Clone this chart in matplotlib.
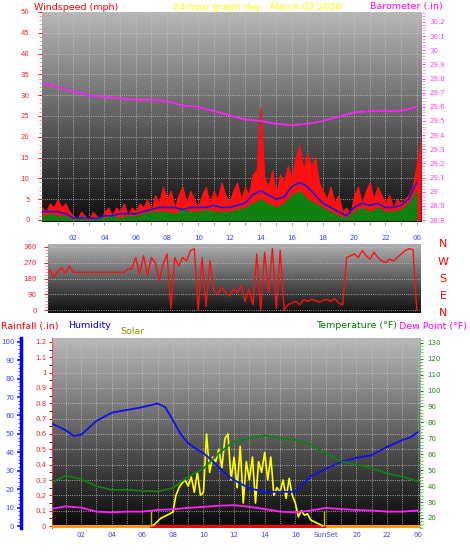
import numpy as np
import matplotlib
matplotlib.use("Agg")
import matplotlib.pyplot as plt
from matplotlib.ticker import MultipleLocator, FixedLocator, FuncFormatter

plt.rcParams['font.family'] = ['DejaVu Sans']

# ---------------- data ----------------
gust_h = [i * 0.25 for i in range(98)]
gust = [3, 2, 4, 3, 5, 3, 4, 2,
        1, 0, 2, 1, 0, 2, 1, 0,
        2, 3, 1, 3, 2, 4, 1, 3,
        2, 4, 3, 5, 2, 6, 4, 8,
        5, 7, 3, 6, 8, 4, 7, 5,
        3, 6, 8, 4, 7, 5, 9, 6,
        4, 7, 9, 5, 8, 6, 11, 12,
        27, 10, 8, 12, 6, 11, 9, 13,
        10, 15, 18, 12, 16, 13, 15, 9,
        7, 5, 8, 4, 6, 2, 3, 1,
        6, 8, 4, 7, 9, 5, 8, 6,
        4, 6, 3, 5, 4, 5, 6, 8,
        13, 19]

avg_h = [i * 0.5 for i in range(49)]
wind_avg = [2, 2, 2, 1.5, 0.5, 0.5, 0.5, 0.3, 1, 1, 1.5, 1.5,
            1.5, 2, 2.5, 3, 3, 3, 2.5, 3, 3, 3, 3.5, 3,
            3, 3.5, 4, 6, 7, 6, 5, 5.5, 8, 9, 8, 6,
            4, 3, 2, 1, 3, 4, 3.5, 4, 3, 3, 3.5, 5, 9]
wind_low = [1, 1.5, 1, 1, 0, 0.5, 0, 0.3, 0.5, 1, 0.5, 1,
            1, 1.5, 2, 2, 2, 1.5, 2.5, 2, 2, 2.5, 2, 2,
            2, 2.5, 3, 4, 5, 4, 3, 4, 6, 7, 5, 4,
            3, 2, 1, 0.5, 2, 3, 2, 3, 2, 2, 2.5, 4, 7]

baro_h = list(range(25))
baro = [29.77, 29.74, 29.71, 29.68, 29.67, 29.66, 29.65, 29.65, 29.64,
        29.61, 29.60, 29.57, 29.54, 29.51, 29.50, 29.48, 29.47, 29.48,
        29.50, 29.53, 29.56, 29.57, 29.57, 29.57, 29.60]

dir_h = [0.25 + i * 0.25 for i in range(96)]
wind_dir = [200, 230, 190, 220, 240, 210, 250,
            215, 215, 215, 215, 215, 215, 215, 215,
            215, 215, 215, 215, 215, 215,
            235, 235,
            300, 205, 310, 200, 300, 270, 170, 260,
            320, 10, 300, 250, 300, 280, 340, 350,
            0, 300, 20, 280, 110, 90, 130, 100,
            80, 120, 100, 140, 50, 120, 30, 320,
            0, 330, 100, 350, 10, 340, 0, 30,
            40, 50, 30, 60, 50, 60, 55, 45,
            55, 60, 50, 65, 40, 30, 300, 310,
            320, 300, 340, 310, 290, 330, 300, 280,
            270, 290, 280, 300, 320, 340, 350, 345,
            0]

th_h = [0, 1, 1.5, 2, 3, 4, 5, 6, 7, 7.5, 8, 8.5, 9, 9.5, 10, 10.5, 11,
        11.5, 12, 13, 14, 15, 16, 16.2, 17, 18, 19, 20, 21, 22, 23, 23.5, 24]
humidity = [56, 52, 49, 49.5, 57, 61.5, 63, 64.5, 66.5, 64.5, 57.5, 50, 45,
            42, 39.5, 36, 32, 28, 25, 20.5, 18.6, 18.6, 18.6, 20.5, 27, 31,
            35, 37, 38.5, 43, 46.7, 48, 51]
temp_h = list(range(25))
temperature = [42, 46.5, 44.4, 40, 37.7, 37.7, 37, 36.7, 38.8, 46, 51, 60.7,
               68, 70, 72, 70, 69, 66, 60.7, 55.5, 53.4, 51.3, 48, 46, 43]
dewpoint = [25.6, 27.3, 26.5, 24, 23.5, 24, 24, 25, 25.5, 26.3, 27, 27.7,
            28, 27, 25.6, 24, 23.5, 24.7, 26.3, 25.6, 25, 24.7, 24, 24, 24.7]

solar_h = [6.6 + i * 0.2 for i in range(57)]
solar = [0, 0.01, 0.03, 0.05, 0.06, 0.07, 0.08,
         0.09, 0.2, 0.25, 0.28, 0.3,
         0.26, 0.32, 0.22, 0.35, 0.2,
         0.22, 0.6, 0.35, 0.45, 0.42,
         0.5, 0.38, 0.57, 0.6, 0.3,
         0.45, 0.25, 0.52, 0.15, 0.42,
         0.3, 0.45, 0.15, 0.42, 0.35,
         0.48, 0.3, 0.45, 0.2, 0.25,
         0.22, 0.3, 0.18, 0.31, 0.2,
         0.15, 0.06, 0.1, 0.07, 0.08,
         0.04, 0.03, 0.02, 0.01, 0]
sunrise, sunset = 6.55, 17.9

hour_ticks = list(range(2, 25, 2))
hour_labels = ["%02d" % (h % 24) for h in hour_ticks]

W, H = 470, 554
fig = plt.figure(figsize=(W / 100, H / 100), dpi=100)


def box(x0, y0, x1, y1):
    return [x0 / W, 1 - y1 / H, (x1 - x0) / W, (y1 - y0) / H]


def gradient(ax, hi, lo):
    g = np.linspace(hi, lo, 256).reshape(-1, 1)
    ax.imshow(g, extent=[0, 1, 0, 1], transform=ax.transAxes, aspect='auto',
              cmap='gray', vmin=0, vmax=1, zorder=0)
    for s in ax.spines.values():
        s.set_visible(False)
    ax.grid(True, color='#c8c8c8', ls=':', lw=0.6, zorder=1)


fs = 5
hfs = 6.8
tick_blue = '#4040ff'

# ---------------- top: wind / barometer ----------------
ax1 = fig.add_axes(box(42, 12, 422, 222))
gradient(ax1, 0.72, 0.05)
ax1.fill_between(gust_h, gust, color='#ff1010', lw=0.8, edgecolor='#ff1010', zorder=2)
ax1.fill_between(avg_h, wind_low, color='#108010', lw=0.6, edgecolor='#108010', zorder=3)
ax1.plot(avg_h, wind_avg, color='#1818e0', lw=1.2, zorder=4)
ax1.set_xlim(0, 24.35)
ax1.set_ylim(-0.5, 50)
ax1.xaxis.set_major_locator(FixedLocator(range(1, 25)))
ax1.set_xticklabels([])
ax1.tick_params(axis='x', length=2, color='#a0a0a0')
ax1.yaxis.set_major_locator(MultipleLocator(5))
ax1.yaxis.set_minor_locator(MultipleLocator(1))
ax1.tick_params(axis='y', colors='#ff2020', labelsize=fs, length=3, pad=6)
ax1.tick_params(axis='y', which='minor', colors='#ff8080', length=2)
ax1b = ax1.twinx()
for s in ax1b.spines.values():
    s.set_visible(False)
ax1b.plot(baro_h, baro, color='#ff20ff', lw=1.3, zorder=5)
ax1b.set_ylim(28.786, 30.27)
ax1b.yaxis.set_major_locator(MultipleLocator(0.1))
ax1b.yaxis.set_minor_locator(MultipleLocator(0.02))
ax1b.yaxis.set_major_formatter(FuncFormatter(lambda v, p: ("%.1f" % v).rstrip('0').rstrip('.') if round(v, 1) <= 30.2 else ""))
ax1b.tick_params(axis='y', colors='#ff40ff', labelsize=fs, length=2)
ax1b.tick_params(axis='y', which='minor', colors='#ff80ff', length=2)

fig.text(34 / W, 1 - 7 / H, "Windspeed (mph)", color='#ff0000', fontsize=hfs, va='center')
fig.text(257 / W, 1 - 7 / H, "24 hour graph day : March 02 2026", color='#ffff00', fontsize=hfs, va='center', ha='center')
fig.text(443 / W, 1 - 7 / H, "Barometer (.in)", color='#ff00ff', fontsize=hfs, va='center', ha='right')

# ---------------- middle: wind direction ----------------
ax2 = fig.add_axes(box(48, 244, 420, 313))
gradient(ax2, 0.7, 0.05)
ax2.plot(dir_h, wind_dir, color='#ff1010', lw=1.0, zorder=3)
ax2.set_xlim(0.38, 24.2)
ax2.set_ylim(-17, 377)
ax2.yaxis.set_major_locator(FixedLocator([0, 90, 180, 270, 360]))
ax2.yaxis.set_minor_locator(MultipleLocator(18))
ax2.tick_params(axis='y', colors='#ff2020', labelsize=fs, length=3, pad=5)
ax2.tick_params(axis='y', which='minor', colors='#ff8080', length=2)
ax2.set_xticks(hour_ticks)
ax2.set_xticklabels(hour_labels)
ax2.xaxis.tick_top()
ax2.tick_params(axis='x', colors=tick_blue, labelsize=fs, length=0, pad=2)
ax2.grid(False, axis='x')
for lab, yy in zip("NWSEN", [244, 262, 279, 296, 313]):
    fig.text(443 / W, 1 - yy / H, lab, color='#ff0000', fontsize=8, ha='center', va='center')

# ---------------- bottom: rain / humidity / solar / temps ----------------
fig.text(1 / W, 1 - 326 / H, "Rainfall (.in)", color='#ff0000', fontsize=hfs, va='center')
fig.text(68 / W, 1 - 326 / H, "Humidity", color='#0000ff', fontsize=hfs, va='center')
fig.text(120 / W, 1 - 332 / H, "Solar", color='#909000', fontsize=hfs, va='center')
fig.text(316 / W, 1 - 326 / H, "Temperature (°F)", color='#008000', fontsize=hfs, va='center')
fig.text(467 / W, 1 - 326 / H, "Dew Point (°F)", color='#ff00ff', fontsize=hfs, va='center', ha='right')

ax3 = fig.add_axes(box(52, 338, 420, 528))
gradient(ax3, 0.72, 0.03)
ax3.set_xlim(0.1, 24.15)
ax3.set_ylim(-0.013, 1.226)
ax3.plot([0.1, 24.15], [0, 0], color='#ff9900', lw=2.2, zorder=3)
ax3.plot([sunrise, sunset], [0, 0], color='#ff0000', lw=2.2, zorder=3)
ax3.plot(solar_h, solar, color='#ffff00', lw=1.2, zorder=6)
ax3.vlines([sunrise, sunset], 0, 0.1, color='#c0c000', lw=1, zorder=6)
ax3.yaxis.set_major_locator(MultipleLocator(0.1))
ax3.yaxis.set_minor_locator(MultipleLocator(0.05))
ax3.yaxis.set_major_formatter(FuncFormatter(lambda v, p: "0" if abs(v) < 1e-9 else ("%.1f" % v).rstrip('0').rstrip('.')))
ax3.spines['left'].set_visible(True)
ax3.spines['left'].set_color('#ff4040')
ax3.spines['left'].set_linestyle(':')
ax3.tick_params(axis='y', colors='#ff2020', labelsize=fs, length=2, pad=2)
ax3.set_xticks(hour_ticks)
ax3.set_xticklabels([("SunSet" if h == 18 else l) for h, l in zip(hour_ticks, hour_labels)])
ax3.xaxis.set_minor_locator(MultipleLocator(1))
ax3.tick_params(axis='x', colors=tick_blue, labelsize=fs, length=0, pad=3)
ax3.tick_params(axis='x', which='minor', length=0)
ax3.grid(True, which='minor', axis='x', color='#c8c8c8', ls=':', lw=0.6)

axh = ax3.twinx()
for s in axh.spines.values():
    s.set_visible(False)
axh.yaxis.tick_left()
axh.spines['left'].set_visible(True)
axh.spines['left'].set_position(('outward', 22))
axh.spines['left'].set_color('#0000ff')
axh.spines['left'].set_linewidth(2.5)
axh.plot(th_h, humidity, color='#1010ee', lw=1.3, zorder=5)
axh.set_ylim(-1, 102)
axh.yaxis.set_major_locator(MultipleLocator(10))
axh.yaxis.set_minor_locator(MultipleLocator(2))
axh.tick_params(axis='y', colors=tick_blue, labelsize=fs, length=3, width=1.5, pad=2)
axh.tick_params(axis='y', which='minor', colors='#3030ff', length=2)

axt = ax3.twinx()
for s in axt.spines.values():
    s.set_visible(False)
axt.spines['right'].set_visible(True)
axt.spines['right'].set_color('#60c060')
axt.spines['right'].set_linestyle(':')
axt.plot(temp_h, temperature, color='#108010', lw=1.3, zorder=5)
axt.plot(temp_h, dewpoint, color='#ff20ff', lw=1.3, zorder=5)
axt.set_ylim(13.7, 133)
axt.yaxis.set_major_locator(MultipleLocator(10))
axt.yaxis.set_major_formatter(FuncFormatter(lambda v, p: "%d" % v if v >= 20 else ""))
axt.yaxis.set_minor_locator(MultipleLocator(2))
axt.tick_params(axis='y', colors='#208020', labelsize=fs, length=2)
axt.tick_params(axis='y', which='minor', colors='#60c060', length=2)

fig.savefig("out.png", dpi=100, facecolor='white')
